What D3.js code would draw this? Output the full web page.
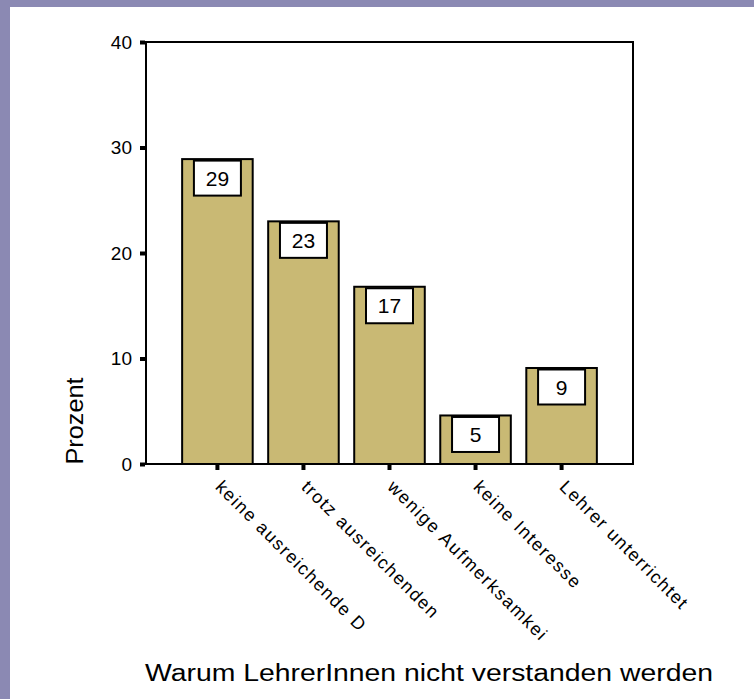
<!DOCTYPE html>
<html lang="de">
<head>
<meta charset="UTF-8" />
<title>Warum LehrerInnen nicht verstanden werden</title>
<script src="https://d3js.org/d3.v7.min.js"></script>
<style>
  html, body { margin: 0; padding: 0; }
  body { width: 754px; height: 699px; overflow: hidden; background: #8b89b3; }
  svg { display: block; }
  text { font-family: "Liberation Sans", Arial, sans-serif; fill: #000; }
</style>
</head>
<body>
<div id="chart"></div>
<script>
// Daten
const categories = [
  "keine ausreichende D",
  "trotz ausreichenden",
  "wenige Aufmerksamkei",
  "keine Interesse",
  "Lehrer unterrichtet"
];
const percents = [28.9, 23.0, 16.8, 4.6, 9.1];
const yTicks = [0, 10, 20, 30, 40];
const yTitle = "Prozent";
const xTitle = "Warum LehrerInnen nicht verstanden werden";

const width = 754, height = 699;
const plot = { left: 146, right: 633, top: 42, bottom: 464 };
const barColor = "#c9b974";

const svg = d3.select("#chart").append("svg")
  .attr("width", width)
  .attr("height", height);

// lila Hintergrund + weisse Folie
svg.append("rect").attr("width", width).attr("height", height).attr("fill", "#8b89b3");
svg.append("rect").attr("x", 10).attr("y", 7)
  .attr("width", width - 10).attr("height", height - 7).attr("fill", "#fff");

const x = d3.scaleBand()
  .domain(categories)
  .range([plot.left, plot.right])
  .paddingInner(0.18)
  .paddingOuter(0.42);

const y = d3.scaleLinear()
  .domain([0, 40])
  .range([plot.bottom, plot.top]);

// Balken
svg.append("g").selectAll("rect")
  .data(percents)
  .join("rect")
  .attr("x", (d, i) => x(categories[i]))
  .attr("y", d => y(d))
  .attr("width", x.bandwidth())
  .attr("height", d => y(0) - y(d))
  .attr("fill", barColor)
  .attr("stroke", "#000")
  .attr("stroke-width", 2);

// Werte-Kaestchen
const boxW = 47, boxH = 35;
const lab = svg.append("g").selectAll("g")
  .data(percents)
  .join("g")
  .attr("transform", (d, i) =>
    `translate(${x(categories[i]) + x.bandwidth() / 2}, ${y(d) + 1.5})`);

lab.append("rect")
  .attr("x", -boxW / 2)
  .attr("width", boxW)
  .attr("height", boxH)
  .attr("fill", "#fff")
  .attr("stroke", "#000")
  .attr("stroke-width", 2);

lab.append("text")
  .attr("y", boxH / 2)
  .attr("dy", "0.36em")
  .attr("text-anchor", "middle")
  .style("font-size", "21px")
  .text(d => Math.round(d));

// Rahmen
svg.append("rect")
  .attr("x", plot.left)
  .attr("y", plot.top)
  .attr("width", plot.right - plot.left)
  .attr("height", plot.bottom - plot.top)
  .attr("fill", "none")
  .attr("stroke", "#000")
  .attr("stroke-width", 2);

// y-Achse
const yAxis = svg.append("g")
  .attr("transform", `translate(${plot.left - 1}, 0)`)
  .call(d3.axisLeft(y).tickValues(yTicks).tickSize(5).tickPadding(8));
yAxis.select(".domain").remove();
yAxis.selectAll(".tick line").attr("stroke-width", 4);
yAxis.selectAll(".tick text")
  .style("font-size", "19px")
  .attr("font-family", null);

// x-Achse
const xAxis = svg.append("g")
  .attr("transform", `translate(0, ${plot.bottom + 1})`)
  .call(d3.axisBottom(x).tickSize(5).tickFormat(""));
xAxis.select(".domain").remove();
xAxis.selectAll(".tick line").attr("stroke-width", 4);

// schraege Kategorien
svg.append("g").selectAll("text")
  .data(categories)
  .join("text")
  .attr("transform", d => `translate(${x(d) + x.bandwidth() / 2 - 3}, 488) rotate(45)`)
  .style("font-size", "18px")
  .text(d => d)
  .each(function () {
    const len = this.getComputedTextLength();
    d3.select(this)
      .attr("textLength", len * 1.17)
      .attr("lengthAdjust", "spacing");
  });

// Achsentitel
svg.append("text")
  .attr("transform", "translate(83, 421) rotate(-90)")
  .attr("text-anchor", "middle")
  .style("font-size", "24px")
  .attr("textLength", 87)
  .attr("lengthAdjust", "spacingAndGlyphs")
  .text(yTitle);

svg.append("text")
  .attr("x", 145)
  .attr("y", 681)
  .style("font-size", "23px")
  .attr("textLength", 568)
  .attr("lengthAdjust", "spacingAndGlyphs")
  .text(xTitle);
</script>
</body>
</html>
